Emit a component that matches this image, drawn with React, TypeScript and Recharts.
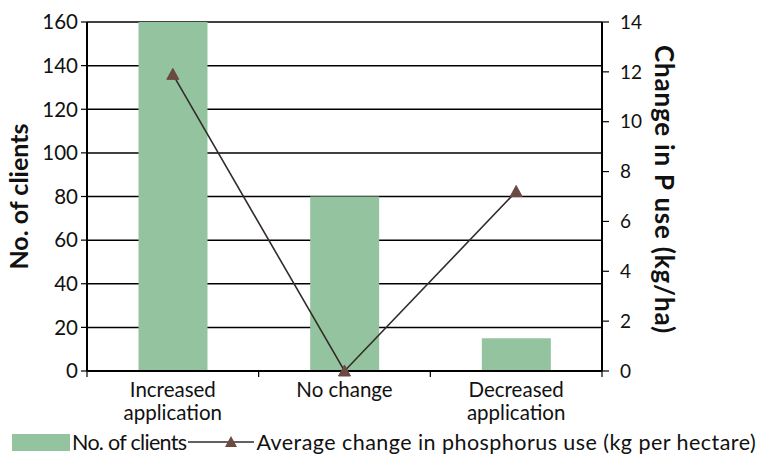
import React from 'react';
import { ComposedChart, Bar, Line, XAxis, YAxis, CartesianGrid, Legend } from 'recharts';

const categories = ['Increased\napplication', 'No change', 'Decreased\napplication'];
const clients = [160, 80, 15];
const pChange = [11.9, 0, 7.2];
const leftTicks = [0, 20, 40, 60, 80, 100, 120, 140, 160];
const rightTicks = [0, 2, 4, 6, 8, 10, 12, 14];

const data = categories.map((c, i) => ({ category: c, clients: clients[i], change: pChange[i] }));

const FONT = 'Lato, "Open Sans", sans-serif';
const BAR = '#94c39f';
const LINE = '#332c2a';
const MARK = '#6b4a42';

const XTick = (props: any) => {
  const { x, y, payload, index, visibleTicksCount } = props;
  const lines = String(payload.value).split('\n');
  const off = payload.offset || 0;
  return (
    <g>
      <line x1={x - off} x2={x - off} y1={y} y2={y + 6} stroke="#000" strokeWidth={1.2} />
      {index === visibleTicksCount - 1 && (
        <line x1={x + off} x2={x + off} y1={y} y2={y + 6} stroke="#000" strokeWidth={1.2} />
      )}
      <text x={x} y={y} textAnchor="middle" fontFamily={FONT} fontSize={20.5} fill="#111">
        {lines.map((l, i) => (
          <tspan key={i} x={x} dy={i === 0 ? 26 : 23}>{l}</tspan>
        ))}
      </text>
    </g>
  );
};

const Triangle = (props: any) => {
  const { cx, cy } = props;
  if (cx == null || cy == null) return null;
  return <polygon points={`${cx},${cy - 6} ${cx - 6},${cy + 5} ${cx + 6},${cy + 5}`} fill={MARK} stroke={MARK} />;
};

const LeftLabel = (props: any) => {
  const { viewBox } = props;
  const cx = 18;
  const cy = viewBox.y + viewBox.height / 2;
  return (
    <text x={cx} y={cy} transform={`rotate(-90 ${cx} ${cy})`} textAnchor="middle" dominantBaseline="central"
      fontFamily={FONT} fontWeight="bold" fontSize={25} fill="#111">No. of clients</text>
  );
};

const RightLabel = (props: any) => {
  const { viewBox } = props;
  const cx = viewBox.x + 63;
  const cy = viewBox.y + viewBox.height / 2 - 7;
  return (
    <text x={cx} y={cy} transform={`rotate(90 ${cx} ${cy})`} textAnchor="middle" dominantBaseline="central"
      fontFamily={FONT} fontWeight="bold" fontSize={26} letterSpacing={0.8} fill="#111">Change in P use (kg/ha)</text>
  );
};

const renderLegend = (props: any) => {
  const { payload } = props;
  const items = (payload || []);
  const barItem = items.find((p: any) => p.dataKey === 'clients');
  const lineItem = items.find((p: any) => p.dataKey === 'change');
  return (
    <div style={{ display: 'flex', alignItems: 'center', fontFamily: FONT, fontSize: 21.5, color: '#111', paddingLeft: 12, height: 30, whiteSpace: 'nowrap', marginTop: -3 }}>
      <span style={{ display: 'inline-block', width: 58, height: 17, background: BAR, marginRight: 2 }} />
      <span style={{ letterSpacing: -0.7 }}>{barItem ? barItem.value : 'No. of clients'}</span>
      <svg width={66} height={20} style={{ margin: '0 2px' }}>
        <line x1={0} x2={66} y1={10} y2={10} stroke={LINE} strokeWidth={1.5} />
        <polygon points="43,4 37,15 49,15" fill={MARK} />
      </svg>
      <span style={{ letterSpacing: 0.45 }}>{lineItem ? lineItem.value : ''}</span>
    </div>
  );
};

export default function App() {
  return (
    <div style={{ position: 'absolute', left: 0, top: 0, width: 766, height: 460, background: '#fff' }}>
      <ComposedChart width={766} height={460} data={data} margin={{ top: 22, right: 0, bottom: 0, left: 0 }}
        barCategoryGap="30%">
        <CartesianGrid vertical={false} stroke="#000" strokeWidth={1.5} yAxisId="left" />
        <XAxis dataKey="category" height={59} tickSize={0} tickMargin={0} tickLine={false}
          axisLine={{ stroke: '#000', strokeWidth: 2 }} tick={<XTick />} interval={0} />
        <YAxis yAxisId="left" orientation="left" width={87} domain={[0, 160]} ticks={leftTicks}
          axisLine={{ stroke: '#000', strokeWidth: 2 }} tickLine={{ stroke: '#000', strokeWidth: 1.2 }}
          tickSize={6} tickMargin={3}
          tick={{ fontFamily: FONT, fontSize: 20.5, fill: '#111' }} label={<LeftLabel />} />
        <YAxis yAxisId="right" orientation="right" width={164} domain={[0, 14]} ticks={rightTicks}
          axisLine={{ stroke: '#000', strokeWidth: 2 }} tickLine={{ stroke: '#000', strokeWidth: 1.2 }}
          tickSize={7} tickMargin={11}
          tick={{ fontFamily: FONT, fontSize: 19, fill: '#111' }} label={<RightLabel />} />
        <Bar yAxisId="left" dataKey="clients" name="No. of clients" fill={BAR} isAnimationActive={false} />
        <Line yAxisId="right" dataKey="change" name="Average change in phosphorus use (kg per hectare)"
          stroke={LINE} strokeWidth={1.6} dot={<Triangle />} activeDot={false} isAnimationActive={false} />
        <Legend verticalAlign="bottom" content={renderLegend}
          wrapperStyle={{ left: 0, width: 766, height: 30 }} />
      </ComposedChart>
    </div>
  );
}
